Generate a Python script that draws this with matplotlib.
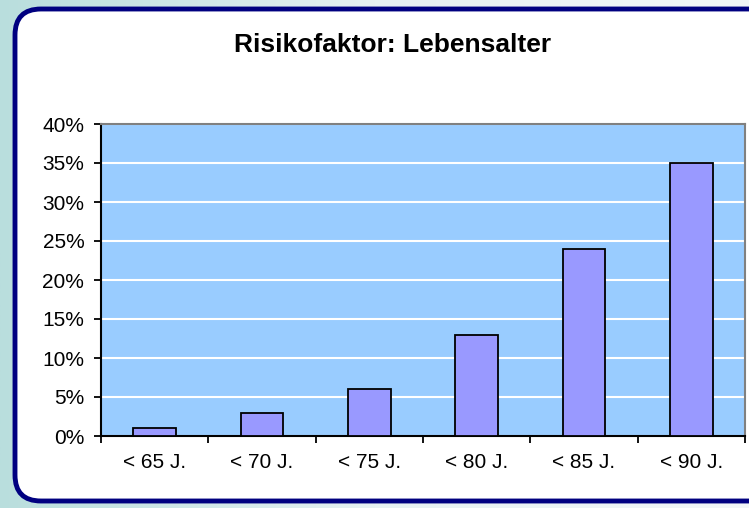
import numpy as np
import matplotlib
matplotlib.use("Agg")
import matplotlib.pyplot as plt
from matplotlib.patches import FancyBboxPatch
from matplotlib.ticker import MultipleLocator, FuncFormatter
from matplotlib.colors import LinearSegmentedColormap

categories = ["< 65 J.", "< 70 J.", "< 75 J.", "< 80 J.", "< 85 J.", "< 90 J."]
values = [1, 3, 6, 13, 24, 35]
title = "Risikofaktor: Lebensalter"

W, H = 749, 508
fig = plt.figure(figsize=(W/100, H/100), dpi=100)
plt.rcParams['font.family'] = ['Liberation Sans', 'DejaVu Sans']

# background gradient
bg = fig.add_axes([0, 0, 1, 1])
bg.set_axis_off()
grad = np.linspace(0, 1, 256)[None, :]
cmap = LinearSegmentedColormap.from_list("g", ["#b9dedd", "#e6f1f2", "#f2f6f8"])
bg.imshow(grad, extent=[0, 1, 0, 1], aspect='auto', cmap=cmap, transform=bg.transAxes)
box = FancyBboxPatch((15, 9), 760, 492, boxstyle="round,pad=0,rounding_size=26",
                     facecolor="white", edgecolor="#000080", linewidth=3.5)
bg.add_patch(box)
bg.set_xlim(0, W); bg.set_ylim(H, 0)

# plot area
l, r, t, b = 101, 745, 124, 436
ax = fig.add_axes([l/W, 1 - b/H, (r-l)/W, (b-t)/H])
ax.set_facecolor("#99ccff")
x = np.arange(len(categories))
ax.bar(x, values, width=0.4, color="#9999ff", edgecolor="black", linewidth=1.3, zorder=3)
ax.set_xlim(-0.5, len(categories) - 0.5)
ax.set_ylim(0, 40)
ax.yaxis.set_major_locator(MultipleLocator(5))
ax.yaxis.set_major_formatter(FuncFormatter(lambda v, p: f"{int(v)}%"))
ax.grid(axis='y', color='white', linewidth=1.5, zorder=1)
ax.set_xticks(x)
ax.set_xticklabels(categories)
ax.set_xticks(np.arange(len(categories) + 1) - 0.5, minor=True)
ax.tick_params(axis='x', which='major', length=0, pad=12, labelsize=15)
ax.tick_params(axis='x', which='minor', length=5, direction='out', width=1.3)
ax.tick_params(axis='y', length=5, width=1.3, labelsize=15, pad=7)
for s in ['left', 'bottom']:
    ax.spines[s].set_color('black'); ax.spines[s].set_linewidth(1.5)
for s in ['top', 'right']:
    ax.spines[s].set_color('#808080'); ax.spines[s].set_linewidth(1.5)

fig.text(393/W, 1 - 45/H, title, ha='center', va='center', fontsize=19, fontweight='bold')

fig.savefig("out.png", dpi=100)
